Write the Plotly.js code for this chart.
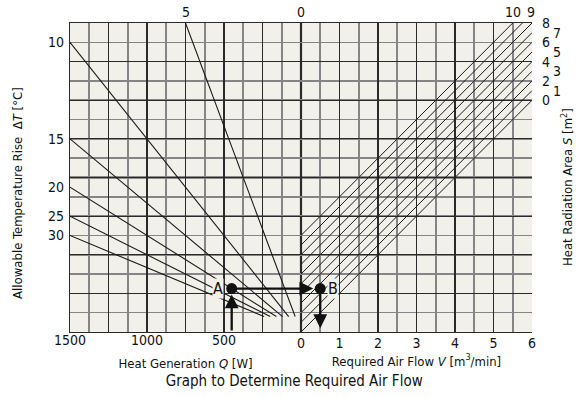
<!DOCTYPE html>
<html>
<head>
<meta charset="utf-8">
<script src="https://cdn.plot.ly/plotly-3.0.1.min.js"></script>
<style>html,body{margin:0;padding:0;background:#fff;}#chart{width:578px;height:397px;}</style>
</head>
<body>
<div id="chart"></div>
<script>
// ---- Data ----
// Allowable temperature rise lines (left half: Heat generation Q [W] vs. common scale)
const dtLabels   = ['5', '10', '15', '20', '25', '30'];
const dtStartQ   = [38, 80, 120, 160, 200, 240];
const dtStartY   = [8, 8, 8, 8, 8, 8];
const dtEndQ     = [750, 1500, 1500, 1500, 1500, 1500];
const dtEndY     = [160, 150, 100, 75, 60, 50];

// Heat radiation area lines (right half: Required air flow V [m3/min])
const sLabels    = ['0','1','2','3','4','5','6','7','8','9','10'];
const sStartV    = [0,0,0,0,0,0,0,0,0,0,0];
const sStartY    = [0,5,10,15,20,25,30,35,40,45,50];
const sEndV      = [6,6,6,6,6,6,6,6,6,5.75,5.5];
const sEndY      = [120,125,130,135,140,145,150,155,160,160,160];

// Example points A and B
const pointA     = {Q: 450, y: 22.5};
const pointB     = {V: 0.5, y: 22.5};
const arrowDownTipY = 2;

// Grid and tick labels
const qGridVals  = [1500, 1250, 1000, 750, 500, 250, 0];
const qTickVals  = [1500, 1000, 500];
const qTickText  = ['1500', '1000', '500'];
const vTickVals  = [0, 1, 2, 3, 4, 5, 6];
const vTickText  = ['0', '1', '2', '3', '4', '5', '6'];
const yGridVals  = [0, 20, 40, 60, 80, 100, 120, 140, 160];

const FONT = "'Liberation Sans Narrow', 'DejaVu Sans Condensed', 'Arial Narrow', sans-serif";
const BG = '#f1f0ea';
const DARK = '#2a2a2a';
const GRAY = '#858585';
const LINE = '#1a1a1a';
const INK = '#111111';

const traces = [];
dtLabels.forEach((lab, i) => {
  traces.push({
    type: 'scatter', mode: 'lines', xaxis: 'x', yaxis: 'y',
    x: [dtStartQ[i], dtEndQ[i]], y: [dtStartY[i], dtEndY[i]],
    line: {color: LINE, width: 1.1}, hoverinfo: 'skip', showlegend: false
  });
});
sLabels.forEach((lab, i) => {
  traces.push({
    type: 'scatter', mode: 'lines', xaxis: 'x2', yaxis: 'y',
    x: [sStartV[i], sEndV[i]], y: [sStartY[i], sEndY[i]],
    line: {color: LINE, width: 1.0}, hoverinfo: 'skip', showlegend: false
  });
});
traces.push({type:'scatter', mode:'markers', xaxis:'x', yaxis:'y', x:[pointA.Q], y:[pointA.y],
  marker:{color: INK, size:11}, showlegend:false, hoverinfo:'skip'});
traces.push({type:'scatter', mode:'markers', xaxis:'x2', yaxis:'y', x:[pointB.V], y:[pointB.y],
  marker:{color: INK, size:11}, showlegend:false, hoverinfo:'skip'});
// invisible anchor trace so the Q tick-label axis is drawn
traces.push({type:'scatter', mode:'markers', xaxis:'x3', yaxis:'y', x:[qTickVals[0]], y:[0],
  marker:{opacity:0, size:1}, showlegend:false, hoverinfo:'skip'});

const annotations = [];
const lblFont = {family: FONT, size: 14, color: INK};
// Left labels (ΔT) at line starts on left border
dtLabels.forEach((lab, i) => {
  if (dtEndQ[i] === 1500) {
    annotations.push({xref:'x', yref:'y', x: dtEndQ[i], y: dtEndY[i], text: lab,
      showarrow:false, xanchor:'right', yanchor:'middle', xshift:-4, font: lblFont});
  } else {
    annotations.push({xref:'x', yref:'y', x: dtEndQ[i], y: dtEndY[i], text: lab,
      showarrow:false, xanchor:'center', yanchor:'bottom', yshift:1, font: lblFont});
  }
});
// Top "0" label at Q = 0
annotations.push({xref:'x', yref:'y', x: 0, y: 160, text: '0', showarrow:false,
  xanchor:'center', yanchor:'bottom', yshift:1, font: lblFont});
// S labels
sLabels.forEach((lab, i) => {
  if (sEndY[i] >= 160 && sEndV[i] < 6) {
    annotations.push({xref:'x2', yref:'y', x: sEndV[i], y: sEndY[i], text: lab,
      showarrow:false, xanchor:'center', yanchor:'bottom', yshift:1,
      xshift: (lab === '9' ? 9 : 0), font: lblFont});
  } else {
    const even = (parseInt(lab) % 2 === 0);
    annotations.push({xref:'x2', yref:'y', x: sEndV[i], y: sEndY[i], text: lab,
      showarrow:false, xanchor:'center', yanchor:'middle', xshift: even ? 14 : 25, font: lblFont});
  }
});
// A / B labels
annotations.push({xref:'x', yref:'y', x: pointA.Q, y: pointA.y, text:'A', showarrow:false,
  xanchor:'right', yanchor:'middle', xshift:-8, bgcolor: BG, borderpad:0,
  font:{family: FONT, size: 16, color: INK}});
annotations.push({xref:'x2', yref:'y', x: pointB.V, y: pointB.y, text:'B', showarrow:false,
  xanchor:'left', yanchor:'middle', xshift:7, bgcolor: BG, borderpad:0,
  font:{family: FONT, size: 16, color: INK}});
// Arrows (A from the Q axis, A -> B, B down to the V axis)
const arrowStyle = {showarrow:true, arrowhead:2, arrowsize:1.2, arrowwidth:2.3, arrowcolor: INK, text:''};
annotations.push(Object.assign({xref:'x', yref:'y', axref:'x', ayref:'y',
  x: pointA.Q, y: pointA.y, ax: pointA.Q, ay: 0, standoff: 6}, arrowStyle));
annotations.push(Object.assign({xref:'x2', yref:'y', axref:'x2', ayref:'y',
  x: pointB.V, y: pointB.y, ax: -pointA.Q / 1500 * 6, ay: pointA.y, standoff: 7}, arrowStyle));
annotations.push(Object.assign({xref:'x2', yref:'y', axref:'x2', ayref:'y',
  x: pointB.V, y: arrowDownTipY, ax: pointB.V, ay: pointB.y}, arrowStyle));
// Vertical titles
annotations.push({xref:'paper', yref:'paper', x:-0.1126, y:0.45, textangle:-90,
  text:'Allowable Temperature Rise  \u0394<i>T</i> [\u00b0C]', showarrow:false,
  xanchor:'center', yanchor:'middle', font:{family: FONT, size: 13, color: INK}});
annotations.push({xref:'paper', yref:'paper', x:1.0758, y:0.469, textangle:-90,
  text:'Heat Radiation Area <i>S</i> [m<sup>2</sup>]', showarrow:false,
  xanchor:'center', yanchor:'middle', font:{family: FONT, size: 13, color: INK}});

const shapes = [
  {type:'line', xref:'paper', yref:'y', x0:0, x1:1, y0:80, y1:80, line:{color:DARK, width:2.2}, layer:'below'},
  {type:'line', xref:'paper', yref:'paper', x0:0.5, x1:0.5, y0:0, y1:1, line:{color:DARK, width:2.2}, layer:'below'}
];

const tickFont = {family: FONT, size: 14, color: INK};
const axisCommon = {
  showgrid: true, gridcolor: DARK, gridwidth: 1.1,
  zeroline: false, showline: true, linecolor: DARK, linewidth: 1.2, mirror: true,
  ticks: '', tickfont: tickFont, fixedrange: true
};

const layout = {
  width: 578, height: 397,
  margin: {l: 70, r: 46, t: 23, b: 65},
  paper_bgcolor: '#ffffff', plot_bgcolor: BG,
  showlegend: false,
  title: {text: 'Graph to Determine Required Air Flow', xref:'container', yref:'container',
    x: 0.509, y: 0.042, xanchor:'center', yanchor:'middle',
    font:{family: FONT, size: 15, color: INK}},
  xaxis: Object.assign({}, axisCommon, {
    domain: [0, 0.5], range: [1500, 0], anchor: 'y',
    tickmode: 'array', tickvals: qGridVals, showticklabels: false,
    minor: {tick0: 0, dtick: 125, showgrid: true, gridcolor: GRAY, gridwidth: 1.6},
    title: {text: 'Heat Generation <i>Q</i> [W]', standoff: 26, font:{family: FONT, size: 13, color: INK}}
  }),
  xaxis3: {
    overlaying: 'x', anchor: 'y', range: [1500, 0], side: 'bottom',
    tickmode: 'array', tickvals: qTickVals, ticktext: qTickText,
    showgrid: false, zeroline: false, showline: false, ticks: '',
    tickfont: tickFont, ticklabelstandoff: -2, fixedrange: true
  },
  xaxis2: Object.assign({}, axisCommon, {
    domain: [0.5, 1], range: [0, 6], anchor: 'y',
    tickmode: 'array', tickvals: vTickVals, ticktext: vTickText, ticklabelstandoff: -2,
    minor: {tick0: 0, dtick: 0.5, showgrid: true, gridcolor: GRAY, gridwidth: 1.6},
    title: {text: 'Required Air Flow <i>V</i> [m<sup>3</sup>/min]', standoff: 6, font:{family: FONT, size: 13, color: INK}}
  }),
  yaxis: Object.assign({}, axisCommon, {
    domain: [0, 1], range: [0, 160],
    tickmode: 'array', tickvals: yGridVals, showticklabels: false,
    minor: {tick0: 0, dtick: 10, showgrid: true, gridcolor: GRAY, gridwidth: 1.6}
  }),
  annotations: annotations,
  shapes: shapes
};

Plotly.newPlot('chart', traces, layout, {displayModeBar: false, staticPlot: true});
</script>
</body>
</html>
